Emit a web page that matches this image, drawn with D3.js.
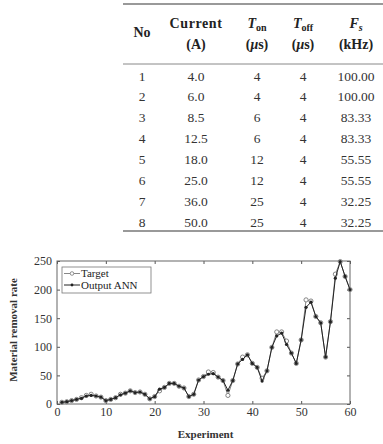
<!DOCTYPE html>
<html lang="en">
  <head>
    <meta charset="UTF-8" />
    <script src="https://d3js.org/d3.v7.min.js"></script>
    <style>
      body { margin: 0; background: #fff; }
      text { font-family: "Liberation Serif", "DejaVu Serif", serif; }
    </style>
  </head>
  <body>
    <div id="my_dataviz"></div>
    <script>
      // table values
      var nos = [1, 2, 3, 4, 5, 6, 7, 8];
      var currents = ["4.0", "6.0", "8.5", "12.5", "18.0", "25.0", "36.0", "50.0"];
      var tOn = [4, 4, 6, 6, 12, 12, 25, 25];
      var tOff = [4, 4, 4, 4, 4, 4, 4, 4];
      var freqs = ["100.00", "100.00", "83.33", "83.33", "55.55", "55.55", "32.25", "32.25"];

      // chart values
      var experiments = d3.range(1, 61);
      var target = [3, 4, 6, 8, 11, 15, 17, 14, 12, 6,
        8, 11, 17, 19, 23, 20, 21, 17, 9, 13,
        23, 29, 36, 36, 31, 28, 13, 17, 42, 48,
        56, 55, 47, 41, 15, 41, 70, 82, 86, 71,
        64, 45, 58, 99, 126, 126, 110, 89, 71, 112,
        182, 180, 153, 142, 82, 144, 227, 249, 223, 200];
      var output = [3, 4, 6, 8, 10, 14, 15, 14, 12, 6,
        8, 11, 16, 19, 23, 20, 21, 17, 9, 13,
        26, 29, 36, 36, 31, 28, 13, 17, 42, 48,
        52, 53, 47, 41, 24, 41, 70, 78, 86, 71,
        64, 40, 58, 99, 119, 124, 104, 89, 71, 112,
        169, 178, 153, 142, 82, 144, 220, 249, 223, 200];
      var xTicks = [0, 10, 20, 30, 40, 50, 60];
      var yTicks = [0, 50, 100, 150, 200, 250];

      var svg = d3.select("#my_dataviz").append("svg")
        .attr("width", 383).attr("height", 444);

      // ---------- table ----------
      var colX = [142, 196, 257, 303, 356];
      var rowY = d3.scaleLinear().domain([1, 8]).range([76, 222]);
      var tbl = svg.append("g").attr("class", "table");

      tbl.append("line").attr("x1", 123).attr("x2", 383).attr("y1", 4).attr("y2", 4)
        .attr("stroke", "#777").attr("stroke-width", 1.4);
      tbl.append("line").attr("x1", 123).attr("x2", 383).attr("y1", 64).attr("y2", 64)
        .attr("stroke", "#888").attr("stroke-width", 1);
      tbl.append("line").attr("x1", 123).attr("x2", 383).attr("y1", 231).attr("y2", 231)
        .attr("stroke", "#777").attr("stroke-width", 1.4);

      var head = tbl.append("g").attr("font-weight", "bold").attr("font-size", 14)
        .attr("fill", "#222").attr("text-anchor", "middle");
      head.append("text").attr("x", colX[0]).attr("y", 37).text("No");
      head.append("text").attr("x", colX[1]).attr("y", 28).attr("letter-spacing", 0.6).text("Current");
      head.append("text").attr("x", colX[1]).attr("y", 49).text("(A)");

      var t1 = head.append("text").attr("x", colX[2]).attr("y", 28);
      t1.append("tspan").attr("font-style", "italic").text("T");
      t1.append("tspan").attr("font-size", 10).attr("dy", 3).text("on");
      var t2 = head.append("text").attr("x", colX[3]).attr("y", 28);
      t2.append("tspan").attr("font-style", "italic").text("T");
      t2.append("tspan").attr("font-size", 10).attr("dy", 3).text("off");
      var t3 = head.append("text").attr("x", colX[4]).attr("y", 28);
      t3.append("tspan").attr("font-style", "italic").text("F");
      t3.append("tspan").attr("font-size", 10).attr("font-style", "italic").attr("dy", 3).text("s");

      [colX[2], colX[3]].forEach(function (cx) {
        var u = head.append("text").attr("x", cx).attr("y", 49);
        u.append("tspan").text("(");
        u.append("tspan").attr("font-style", "italic").text("\u03bc");
        u.append("tspan").text("s)");
      });
      head.append("text").attr("x", colX[4]).attr("y", 49).text("(kHz)");

      var cols = [nos, currents, tOn, tOff, freqs];
      cols.forEach(function (col, ci) {
        tbl.selectAll("t" + ci).data(col).enter().append("text")
          .attr("x", colX[ci])
          .attr("y", function (d, i) { return rowY(i + 1) + 4.5; })
          .attr("text-anchor", "middle")
          .attr("font-size", 13.5)
          .attr("fill", "#333")
          .text(function (d) { return d; });
      });

      // ---------- chart ----------
      var pLeft = 57, pRight = 350, pTop = 261, pBottom = 404;
      var x = d3.scaleLinear().domain([0, 60]).range([pLeft, pRight]);
      var y = d3.scaleLinear().domain([0, 250]).range([pBottom, pTop]);
      var chart = svg.append("g").attr("class", "chart");

      function styleAxis(g) {
        g.select(".domain").remove();
        g.selectAll(".tick line").attr("stroke", "#555");
        g.selectAll(".tick text").attr("font-family", "Liberation Serif, serif")
          .attr("font-size", 12).attr("fill", "#333");
      }

      chart.append("g").attr("transform", "translate(0," + pBottom + ")")
        .call(d3.axisBottom(x).tickValues(xTicks).tickSizeInner(-3).tickSizeOuter(0).tickPadding(3))
        .call(styleAxis);
      chart.append("g").attr("transform", "translate(0," + pTop + ")")
        .call(d3.axisTop(x).tickValues(xTicks).tickSizeInner(-3).tickSizeOuter(0).tickFormat(""))
        .call(styleAxis);
      chart.append("g").attr("transform", "translate(" + pLeft + ",0)")
        .call(d3.axisLeft(y).tickValues(yTicks).tickSizeInner(-3).tickSizeOuter(0).tickPadding(5))
        .call(styleAxis);
      chart.append("g").attr("transform", "translate(" + pRight + ",0)")
        .call(d3.axisRight(y).tickValues(yTicks).tickSizeInner(-3).tickSizeOuter(0).tickFormat(""))
        .call(styleAxis);

      chart.append("rect").attr("x", pLeft).attr("y", pTop)
        .attr("width", pRight - pLeft).attr("height", pBottom - pTop)
        .attr("fill", "none").attr("stroke", "#666").attr("stroke-width", 1);

      var line = d3.line()
        .x(function (d, i) { return x(experiments[i]); })
        .y(function (d) { return y(d); });

      // Target
      chart.append("path").datum(target).attr("d", line)
        .attr("fill", "none").attr("stroke", "#888").attr("stroke-width", 1);
      chart.selectAll("tdot").data(target).enter().append("circle")
        .attr("cx", function (d, i) { return x(experiments[i]); })
        .attr("cy", function (d) { return y(d); })
        .attr("r", 2.1).attr("fill", "#fff").attr("stroke", "#777").attr("stroke-width", 0.9);

      // Output ANN
      chart.append("path").datum(output).attr("d", line)
        .attr("fill", "none").attr("stroke", "#222").attr("stroke-width", 1);
      chart.selectAll("odot").data(output).enter().append("circle")
        .attr("cx", function (d, i) { return x(experiments[i]); })
        .attr("cy", function (d) { return y(d); })
        .attr("r", 1.6).attr("fill", "#222");

      // legend
      var lg = chart.append("g").attr("class", "legends");
      lg.append("rect").attr("x", 62).attr("y", 267).attr("width", 89).attr("height", 26)
        .attr("fill", "#fff").attr("stroke", "#777").attr("stroke-width", 0.8);
      var items = [
        { name: "Target", color: "#888", y: 273.5 },
        { name: "Output ANN", color: "#222", y: 285 }
      ];
      items.forEach(function (it, i) {
        lg.append("line").attr("x1", 64).attr("x2", 80).attr("y1", it.y).attr("y2", it.y)
          .attr("stroke", it.color).attr("stroke-width", 1);
        if (i === 0) {
          lg.append("circle").attr("cx", 72).attr("cy", it.y).attr("r", 1.8)
            .attr("fill", "#fff").attr("stroke", "#777").attr("stroke-width", 0.8);
        } else {
          lg.append("circle").attr("cx", 72).attr("cy", it.y).attr("r", 1.4).attr("fill", "#222");
        }
        lg.append("text").attr("x", 81).attr("y", it.y + 3.5)
          .attr("font-size", 11).attr("fill", "#222").text(it.name);
      });

      // axis titles
      chart.append("text").attr("x", (pLeft + pRight) / 2 + 2).attr("y", 438)
        .attr("text-anchor", "middle").attr("font-weight", "bold").attr("font-size", 11)
        .attr("fill", "#333").text("Experiment");
      chart.append("text").attr("transform", "translate(17,330) rotate(-90)")
        .attr("text-anchor", "middle").attr("font-weight", "bold").attr("font-size", 11)
        .attr("fill", "#333").text("Material removal rate");
    </script>
  </body>
</html>
